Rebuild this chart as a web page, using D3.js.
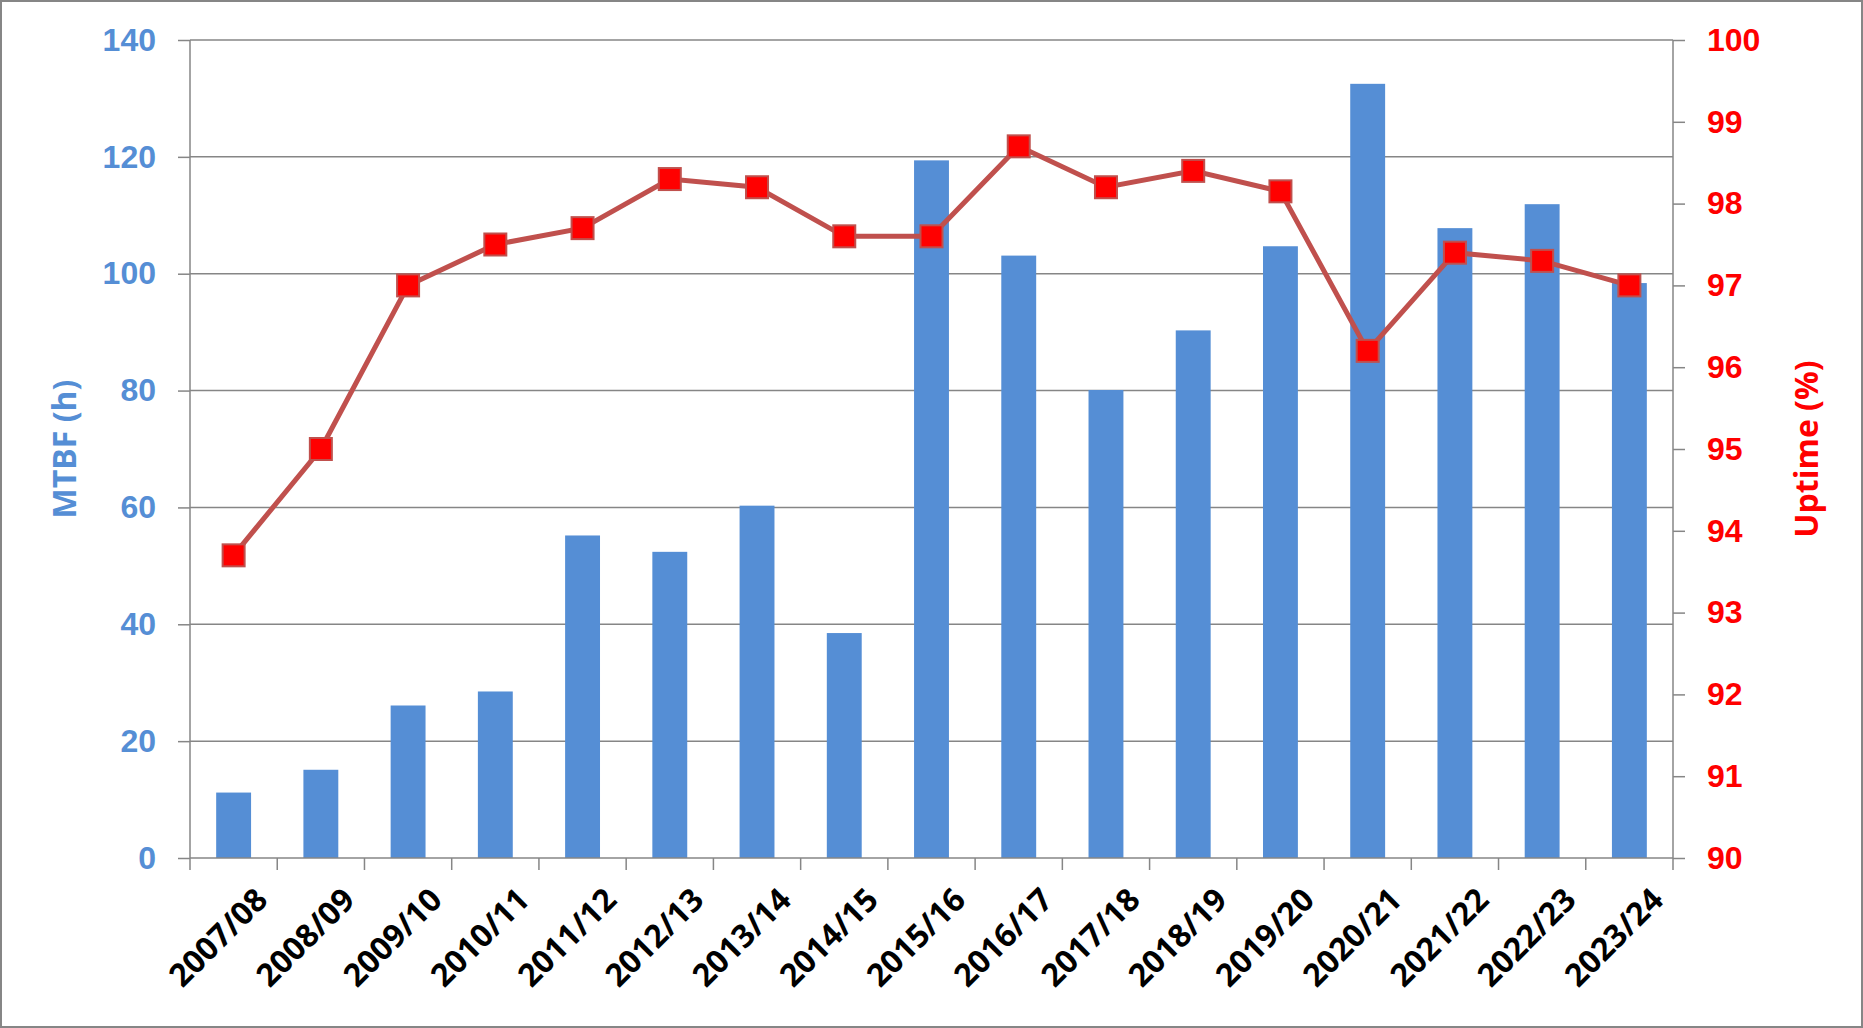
<!DOCTYPE html>
<html><head><meta charset="utf-8">
<script src="https://cdn.jsdelivr.net/npm/d3@7"></script>
<style>body{margin:0;background:#fff}svg{display:block;font-family:"Open Sans","Liberation Sans",sans-serif;font-weight:bold}</style>
</head><body><svg id="c" width="1863" height="1028"></svg>
<script>
const years = ["2007/08","2008/09","2009/10","2010/11","2011/12","2012/13","2013/14","2014/15","2015/16","2016/17","2017/18","2018/19","2019/20","2020/21","2021/22","2022/23","2023/24"];
const mtbf = [11.2,15.1,26.1,28.5,55.2,52.4,60.3,38.5,119.4,103.1,80.1,90.3,104.7,132.5,107.8,111.9,98.4];
const uptime = [93.7,95.0,97.0,97.5,97.7,98.3,98.2,97.6,97.6,98.7,98.2,98.4,98.15,96.2,97.4,97.3,97.0];
const leftTicks = [0,20,40,60,80,100,120,140];
const rightTicks = [90,91,92,93,94,95,96,97,98,99,100];

const svg = d3.select("#c");
const L = 190, R = 1673, T = 40, B = 858;
const grey = "#868686", blue = "#558ED5", red = "#FF0000";

svg.append("rect").attr("x",1).attr("y",1).attr("width",1861).attr("height",1026)
  .attr("fill","#fff").attr("stroke",grey).attr("stroke-width",2);

const x = d3.scaleBand().domain(years).range([L,R]).paddingInner(0.6).paddingOuter(0.3);
const xb = d3.scaleBand().domain(years).range([L,R]);
const yl = d3.scaleLinear().domain([0,140]).range([B,T]);
const yr = d3.scaleLinear().domain([90,100]).range([B,T]);

svg.append("g").selectAll("line").data(leftTicks.slice(1)).join("line")
  .attr("x1",L).attr("x2",R).attr("y1",d=>yl(d)).attr("y2",d=>yl(d))
  .attr("stroke",grey).attr("stroke-width",1.5);

svg.append("g").selectAll("rect").data(mtbf).join("rect")
  .attr("x",(d,i)=>x(years[i])).attr("width",x.bandwidth())
  .attr("y",d=>yl(d)).attr("height",d=>B-yl(d)).attr("fill","#558ED5");

const la = svg.append("g").attr("transform",`translate(${L},0)`)
  .call(d3.axisLeft(yl).tickValues(leftTicks).tickSize(12).tickPadding(22));
const ra = svg.append("g").attr("transform",`translate(${R},0)`)
  .call(d3.axisRight(yr).tickValues(rightTicks).tickSize(12).tickPadding(22));
const ba = svg.append("g").attr("transform",`translate(0,${B})`)
  .call(d3.axisBottom(xb).tickSize(0).tickFormat(""));
ba.selectAll(".cat").data(years.concat([null])).join("line")
  .attr("x1",(d,i)=>L+i*xb.step()).attr("x2",(d,i)=>L+i*xb.step())
  .attr("y1",0).attr("y2",12).attr("stroke",grey).attr("stroke-width",1.5);
[la,ra,ba].forEach(a=>{a.selectAll("path,line").attr("stroke",grey).attr("stroke-width",1.5);a.select(".domain").attr("d",null);});
la.append("line").attr("y1",T).attr("y2",B).attr("stroke",grey).attr("stroke-width",1.5);
ra.append("line").attr("y1",T).attr("y2",B).attr("stroke",grey).attr("stroke-width",1.5);
ba.append("line").attr("x1",L).attr("x2",R).attr("stroke",grey).attr("stroke-width",1.5);
la.selectAll("text").attr("fill",blue).style("font-size","32px").style("font-weight","bold").attr("font-family",null);
ra.selectAll("text").attr("fill",red).style("font-size","32px").style("font-weight","bold").attr("font-family",null);

svg.append("g").selectAll("text").data(years).join("text")
  .attr("transform",d=>`translate(${xb(d)+xb.bandwidth()/2+20},${B+28}) rotate(-45)`)
  .attr("text-anchor","end").attr("dy","0.7em")
  .style("font-size","32px").attr("fill","#000").text(d=>d);

const pts = uptime.map((v,i)=>[xb(years[i])+xb.bandwidth()/2, yr(v)]);
svg.append("path").attr("d",d3.line()(pts)).attr("fill","none")
  .attr("stroke","#C0504D").attr("stroke-width",5);
svg.append("g").selectAll("rect").data(pts).join("rect")
  .attr("x",d=>d[0]-11).attr("y",d=>d[1]-11).attr("width",22).attr("height",22)
  .attr("fill",red).attr("stroke","#C0504D").attr("stroke-width",2);

svg.append("text").attr("transform",`translate(76,${(T+B)/2}) rotate(-90)`)
  .attr("text-anchor","middle").attr("fill",blue).style("font-size","32px").text("MTBF (h)");
svg.append("text").attr("transform",`translate(1818,${(T+B)/2}) rotate(-90)`)
  .attr("text-anchor","middle").attr("fill",red).style("font-size","32px").text("Uptime (%)");
</script></body></html>
